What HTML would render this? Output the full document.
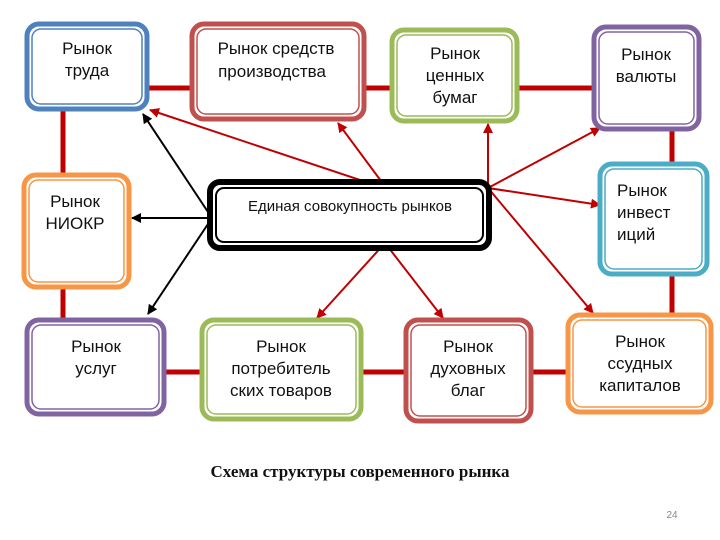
<!DOCTYPE html>
<html><head><meta charset="utf-8"><style>
html,body{margin:0;padding:0;background:#fff;width:720px;height:540px;overflow:hidden}
svg{display:block}
text{font-family:"Liberation Sans",sans-serif;font-size:17px;fill:#111}
</style></head><body>
<svg width="720" height="540" viewBox="0 0 720 540">
<defs>
<marker id="ar" viewBox="0 0 10 10" refX="9" refY="5" markerWidth="5" markerHeight="5" orient="auto-start-reverse"><path d="M0,0L10,5L0,10z" fill="#c00000"/></marker>
<marker id="ab" viewBox="0 0 10 10" refX="9" refY="5" markerWidth="5" markerHeight="5" orient="auto"><path d="M0,0L10,5L0,10z" fill="#000"/></marker>
</defs>
<g stroke="#c00000" stroke-width="5">
<line x1="148" y1="88" x2="190" y2="88"/><line x1="365" y1="88" x2="390" y2="88"/><line x1="518" y1="88" x2="592" y2="88"/>
<line x1="672" y1="130" x2="672" y2="162"/><line x1="672" y1="275" x2="672" y2="313"/>
<line x1="63" y1="110" x2="63" y2="173"/><line x1="63" y1="288" x2="63" y2="318"/>
<line x1="165" y1="372" x2="200" y2="372"/><line x1="362" y1="372" x2="404" y2="372"/><line x1="532" y1="372" x2="566" y2="372"/>
</g>
<g stroke="#c00000" stroke-width="2" marker-end="url(#ar)">
<line x1="387" y1="189" x2="150" y2="110"/><line x1="387" y1="189" x2="338" y2="123"/>
<line x1="488" y1="188" x2="488" y2="124"/><line x1="488" y1="188" x2="600" y2="128"/>
<line x1="488" y1="188" x2="600" y2="205"/><line x1="488" y1="188" x2="593" y2="313"/>
<line x1="385" y1="243" x2="317" y2="318"/><line x1="385" y1="243" x2="443" y2="318"/>
</g>
<g stroke="#000" stroke-width="2" marker-end="url(#ab)">
<line x1="208" y1="218" x2="132" y2="218"/><line x1="208" y1="212" x2="143" y2="114"/><line x1="208" y1="224" x2="148" y2="314"/>
</g>
<g fill="#fff" stroke-width="5">
<g stroke="#4f81bd"><rect x="27" y="24" width="120" height="85" rx="12"/></g>
<g stroke="#c0504d"><rect x="192" y="24" width="172" height="95" rx="12"/></g>
<g stroke="#9bbb59"><rect x="392" y="30" width="125" height="91" rx="12"/></g>
<g stroke="#8064a2"><rect x="594" y="27" width="105" height="102" rx="12"/></g>
<g stroke="#4bacc6"><rect x="600" y="164" width="107" height="110" rx="12"/></g>
<g stroke="#f79646"><rect x="24" y="175" width="105" height="112" rx="12"/></g>
<g stroke="#000" stroke-width="6"><rect x="210" y="182" width="279" height="66" rx="10"/></g>
<g stroke="#8064a2"><rect x="27" y="320" width="137" height="94" rx="12"/></g>
<g stroke="#9bbb59"><rect x="202" y="320" width="159" height="99" rx="12"/></g>
<g stroke="#c0504d"><rect x="406" y="320" width="125" height="101" rx="12"/></g>
<g stroke="#f79646"><rect x="568" y="315" width="143" height="97" rx="12"/></g>
</g>
<g fill="none" stroke-width="1.5">
<rect x="32" y="29" width="110" height="75" rx="9" stroke="#4f81bd"/>
<rect x="197" y="29" width="162" height="85" rx="9" stroke="#c0504d"/>
<rect x="397" y="35" width="115" height="81" rx="9" stroke="#9bbb59"/>
<rect x="599" y="32" width="95" height="92" rx="9" stroke="#8064a2"/>
<rect x="605" y="169" width="97" height="100" rx="9" stroke="#4bacc6"/>
<rect x="29" y="180" width="95" height="102" rx="9" stroke="#f79646"/>
<rect x="216" y="188" width="267" height="54" rx="8" stroke="#000" stroke-width="2"/>
<rect x="32" y="325" width="127" height="84" rx="9" stroke="#8064a2"/>
<rect x="207" y="325" width="149" height="89" rx="9" stroke="#9bbb59"/>
<rect x="411" y="325" width="115" height="91" rx="9" stroke="#c0504d"/>
<rect x="573" y="320" width="133" height="87" rx="9" stroke="#f79646"/>
</g>
<g text-anchor="middle">
<text x="87" y="54">Рынок</text><text x="87" y="76">труда</text>
<text x="276" y="54">Рынок средств</text><text x="272" y="77">производства</text>
<text x="455" y="59">Рынок</text><text x="455" y="81">ценных</text><text x="455" y="103">бумаг</text>
<text x="646" y="60">Рынок</text><text x="646" y="82">валюты</text>
<text x="75" y="207">Рынок</text><text x="75" y="229">НИОКР</text>
<text x="350" y="211" style="font-size:15px">Единая совокупность рынков</text>
<text x="96" y="352">Рынок</text><text x="96" y="374">услуг</text>
<text x="281" y="352">Рынок</text><text x="281" y="374">потребитель</text><text x="281" y="396">ских товаров</text>
<text x="468" y="352">Рынок</text><text x="468" y="374">духовных</text><text x="468" y="396">благ</text>
<text x="640" y="347">Рынок</text><text x="640" y="369">ссудных</text><text x="640" y="391">капиталов</text>
</g>
<text x="617" y="196">Рынок</text><text x="617" y="218">инвест</text><text x="617" y="240">иций</text>
<text x="360" y="477" text-anchor="middle" style="font-family:'Liberation Serif',serif;font-weight:bold;font-size:17px">Схема структуры современного рынка</text>
<text x="672" y="518" text-anchor="middle" style="font-size:10px;fill:#888">24</text>
</svg>
</body></html>
